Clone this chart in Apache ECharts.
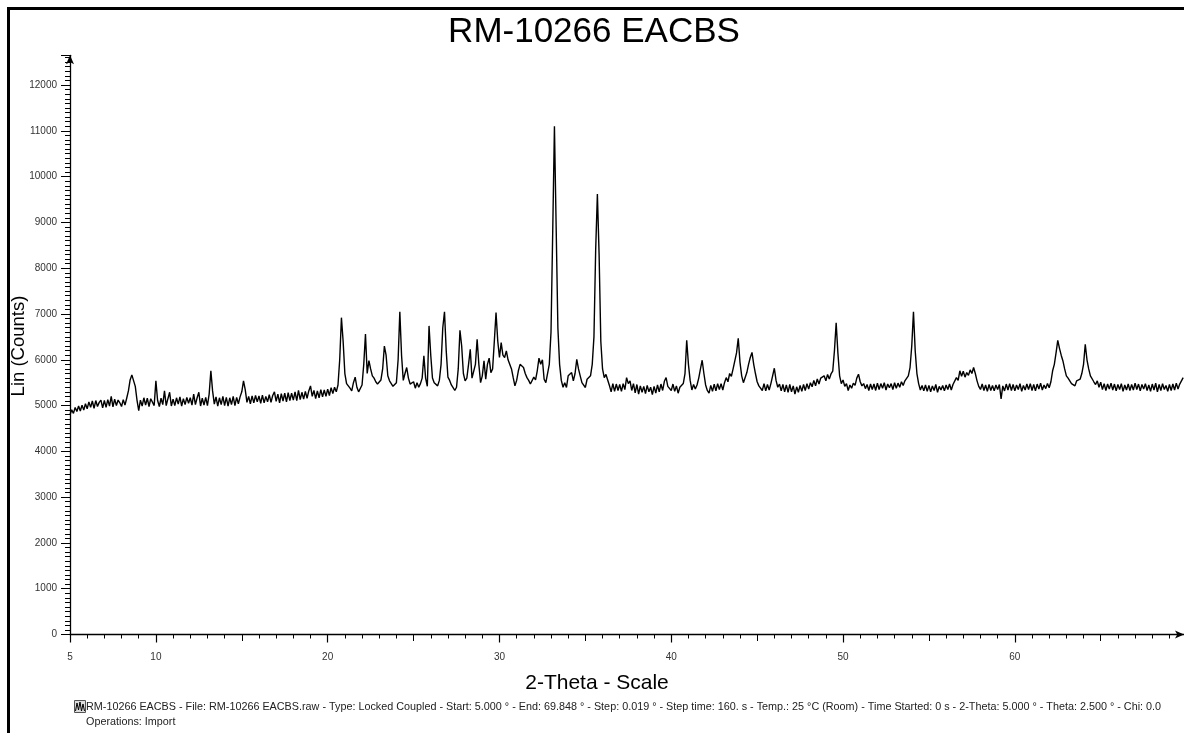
<!DOCTYPE html>
<html><head><meta charset="utf-8">
<script src="https://cdn.jsdelivr.net/npm/echarts@6/dist/echarts.min.js"></script>
<style>html,body{margin:0;padding:0;background:#fff}#c{width:1184px;height:733px}</style>
</head><body><div id="c"></div>
<script>
// 2-Theta grid of the read-off pattern
const thetaStart = 5.0;
const thetaStep = 0.1;
const thetaMin = 5.0;
const thetaMax = 69.848;
const xLabelTicks = [5, 10, 20, 30, 40, 50, 60];
const yMin = 0, yMax = 12650, yStep = 1000;

// Lin (Counts)
const counts05to20 = [
  4800,4910,4830,4960,4870,4990,4880,5010,4900,5040,
  4930,5080,4960,5100,4940,5110,4980,5070,5120,4950,
  5110,4960,5130,4990,5200,4970,5140,5000,5120,5060,
  4980,5130,5010,5160,5320,5560,5670,5660,5420,5120,
  4890,5120,4990,5170,5010,5160,4980,5150,5190,5000,
  5540,5110,4980,5160,5020,5320,5000,5150,5290,4990,
  5140,5000,5170,5030,5190,4990,5150,5020,5180,5050,
  5170,5010,5250,5020,5170,5290,4990,5160,5010,5180,
  5000,5250,5760,5320,5030,5190,4990,5170,5020,5200,
  5000,5180,4990,5170,5020,5200,5000,5180,5040,5190,
  5300,5540,5350,5070,5200,5040,5210,5060,5220,5080,
  5210,5050,5230,5060,5200,5080,5240,5070,5220,
  5300,5090,5250,5060,5260,5100,5270,5080,5280,5110,
  5270,5120,5300,5110,5330,5130,5290,5140,5310,5160,
  5320,5430,5200,5330,5150,5320,5170,5350,5190,5340,
  5200,5360,5220,5390,5260,5400,5300,5450,6000,6920
];
const counts21to36 = [
  6400,5700,5480,5450,5380,5320,5500,5620,5400,5300,
  5330,5450,5900,6560,5700,5980,5800,5650,5600,5520,
  5470,5500,5560,5800,6300,6100,5650,5540,5480,5420,
  5400,5500,6000,7050,6100,5550,5700,5830,5600,5470,
  5430,5520,5380,5500,5400,5480,5600,6085,5600,5420,
  6740,6100,5600,5500,5480,5430,5550,5900,6700,7050,
  6200,5620,5550,5450,5430,5330,5400,5800,6645,6300,
  5700,5540,5600,5900,6230,5600,5580,5900,6450,5900,
  5500,5650,5975,5575,5900,6035,5720,5800,6400,7030,
  6410,6050,6375,6100,6050,6195,6000,5975,5800,5610,
  5430,5550,5760,5900,5940,5830,5700,5610,5550,5470,
  5480,5620,5560,5760,6035,5900,6000,5575,5500,5470,
  5900,6600,8800,11100,8900,6700,5900,5550,5400,5500,
  5395,5650,5610,5720,5540,5700,6010,5800,5650,5500,
  5470,5395,5575,5600,5650,5900,6500,8400,9620,8300,
  6400,5800,5610,5680,5560,5440,5300,5480,5310,5470
];
const counts37to52 = [
  5330,5460,5310,5480,5350,5610,5480,5540,5330,5480,
  5280,5460,5250,5430,5290,5420,5260,5440,5300,5400,
  5240,5420,5270,5450,5300,5470,5330,5530,5610,5420,
  5460,5330,5470,5310,5430,5270,5400,5360,5480,5700,
  6425,5900,5550,5340,5460,5360,5450,5600,5800,5990,
  5700,5450,5330,5270,5440,5310,5470,5320,5480,5350,
  5480,5340,5500,5610,5520,5700,5640,5800,5830,6150,
  6470,5950,5650,5500,5520,5720,5900,6050,6160,5900,
  5700,5520,5430,5470,5330,5480,5320,5460,5340,5480,
  5500,5815,5550,5400,5470,5320,5460,5300,5450,5290,
  5460,5300,5430,5250,5410,5290,5440,5310,5460,
  5330,5480,5360,5500,5410,5550,5430,5580,5470,5600,
  5560,5650,5540,5680,5580,5690,5750,6200,6810,6150,
  5650,5480,5560,5420,5480,5330,5450,5380,5490,5440,
  5600,5685,5520,5430,5480,5370,5460,5330,5470,5350,
  5470,5330,5490,5350,5480,5380,5500,5340,5470,5390
];
const counts53to70 = [
  5480,5350,5500,5380,5490,5400,5520,5440,5540,5580,
  5650,5830,6300,7050,6200,5700,5480,5340,5440,5320,
  5450,5310,5440,5300,5430,5330,5460,5290,5420,5340,
  5440,5320,5450,5350,5470,5340,5460,5430,5610,5550,
  5760,5640,5750,5620,5720,5660,5780,5700,5830,5700,
  5540,5420,5350,5470,5330,5450,5310,5460,5330,5440,
  5320,5450,5350,5460,5145,5430,5320,5470,5340,5480,
  5330,5460,5320,5450,5350,5480,5310,5440,5340,5470,
  5350,5480,5330,5460,5320,5470,5360,5490,5340,5450,
  5370,5480,5390,5520,5760,5900,6150,6425,6250,6100,
  5975,5800,5650,5600,5540,5480,5520,5430,5540,5500,
  5575,5700,5900,6340,6000,5800,5650,5610,5520,5460,
  5540,5400,5510,5350,5480,5330,5470,5360,5490,5340,
  5470,5320,5460,5350,5480,5310,5450,5340,5470,5330,
  5460,5340,5490,5350,5470,5320,5460,5360,5480,5330,
  5450,5310,5470,5340,5490,5300,5460,5330,5480,5350,
  5440,5310,5460,5330,5470,5340,5490,5360,5470,5500,5610
];

const titleText = 'RM-10266 EACBS';
const xName = '2-Theta - Scale';
const yName = 'Lin (Counts)';
const footer1 = 'RM-10266 EACBS - File: RM-10266 EACBS.raw - Type: Locked Coupled - Start: 5.000 \u00b0 - End: 69.848 \u00b0 - Step: 0.019 \u00b0 - Step time: 160. s - Temp.: 25 \u00b0C (Room) - Time Started: 0 s - 2-Theta: 5.000 \u00b0 - Theta: 2.500 \u00b0 - Chi: 0.0';
const footer2 = 'Operations: Import';

const counts = [].concat(counts05to20, counts21to36, counts37to52, counts53to70);
const pattern = counts.map((v, i) => [Math.round((thetaStart + i * thetaStep) * 10) / 10, v]);

const FONT = '"Liberation Sans", Arial, sans-serif';
const chart = echarts.init(document.getElementById('c'));
const baseX = {
  type: 'value', min: thetaMin, max: thetaMax, position: 'bottom',
  splitLine: { show: false }, axisLabel: { show: false },
  axisLine: { show: false }
};
chart.setOption({
  animation: false,
  backgroundColor: '#fff',
  grid: { left: 70, right: 0, top: 55.3, bottom: 98.5, containLabel: false, outerBoundsMode: 'none' },
  xAxis: [
    Object.assign({}, baseX, {
      axisLine: { show: true, lineStyle: { color: '#000', width: 1.3 }, symbol: ['none', 'arrow'], symbolSize: [6, 9], symbolOffset: [0, 0] },
      axisTick: { show: true, length: 8, lineStyle: { color: '#000', width: 1.2 }, customValues: xLabelTicks },
      axisLabel: { show: true, customValues: xLabelTicks, fontSize: 10, color: '#333', margin: 18, fontFamily: FONT }
    }),
    Object.assign({}, baseX, { interval: 5, axisTick: { show: true, length: 6.5, lineStyle: { color: '#000', width: 1 } } }),
    Object.assign({}, baseX, { interval: 1, axisTick: { show: true, length: 4, lineStyle: { color: '#000', width: 1 } } })
  ],
  yAxis: {
    type: 'value', min: yMin, max: yMax, interval: yStep,
    axisLine: { show: true, lineStyle: { color: '#000', width: 1.3 }, symbol: ['none', 'arrow'], symbolSize: [6, 9], symbolOffset: [0, 0] },
    axisTick: { show: true, length: 9, lineStyle: { color: '#000', width: 1 } },
    minorTick: { show: true, splitNumber: 10, length: 5, lineStyle: { color: '#000', width: 1 } },
    axisLabel: { fontSize: 10, color: '#333', margin: 13, fontFamily: FONT, showMaxLabel: false, formatter: v => String(v) },
    splitLine: { show: false }, minorSplitLine: { show: false }
  },
  series: [{
    type: 'line', data: pattern, xAxisIndex: 0, showSymbol: false, symbol: 'none',
    lineStyle: { color: '#000', width: 1.4 }, sampling: null, clip: true, z: 3
  }],
  graphic: [
    { type: 'line', shape: { x1: 8.5, y1: 8.5, x2: 1184, y2: 8.5 }, style: { stroke: '#000', lineWidth: 3 } },
    { type: 'line', shape: { x1: 8.5, y1: 7, x2: 8.5, y2: 733 }, style: { stroke: '#000', lineWidth: 3 } },
    { type: 'text', x: 594, y: 32, style: { text: titleText, font: '35px ' + FONT, fill: '#000', textAlign: 'center', textVerticalAlign: 'middle', align: 'center', verticalAlign: 'middle' } },
    { type: 'text', x: 597, y: 683, style: { text: xName, font: '21px ' + FONT, fill: '#000', textAlign: 'center', textVerticalAlign: 'middle', align: 'center', verticalAlign: 'middle' } },
    { type: 'text', x: 19, y: 346, rotation: Math.PI / 2, style: { text: yName, font: '18.5px ' + FONT, fill: '#000', textAlign: 'center', textVerticalAlign: 'middle', align: 'center', verticalAlign: 'middle' } },
    { type: 'rect', shape: { x: 74.5, y: 700.5, width: 11, height: 12 }, style: { stroke: '#555', fill: '#ddd', lineWidth: 1 } },
    { type: 'polyline', shape: { points: [[75.5, 711], [77, 703], [78.5, 710], [80, 702], [81.5, 711], [83, 704], [84.5, 711]] }, style: { stroke: '#000', fill: null, lineWidth: 1 } },
    { type: 'text', x: 86, y: 707, style: { text: footer1, font: '10.8px ' + FONT, fill: '#222', textAlign: 'left', textVerticalAlign: 'middle', align: 'left', verticalAlign: 'middle' } },
    { type: 'text', x: 86, y: 722, style: { text: footer2, font: '10.8px ' + FONT, fill: '#222', textAlign: 'left', textVerticalAlign: 'middle', align: 'left', verticalAlign: 'middle' } }
  ]
});
</script></body></html>
